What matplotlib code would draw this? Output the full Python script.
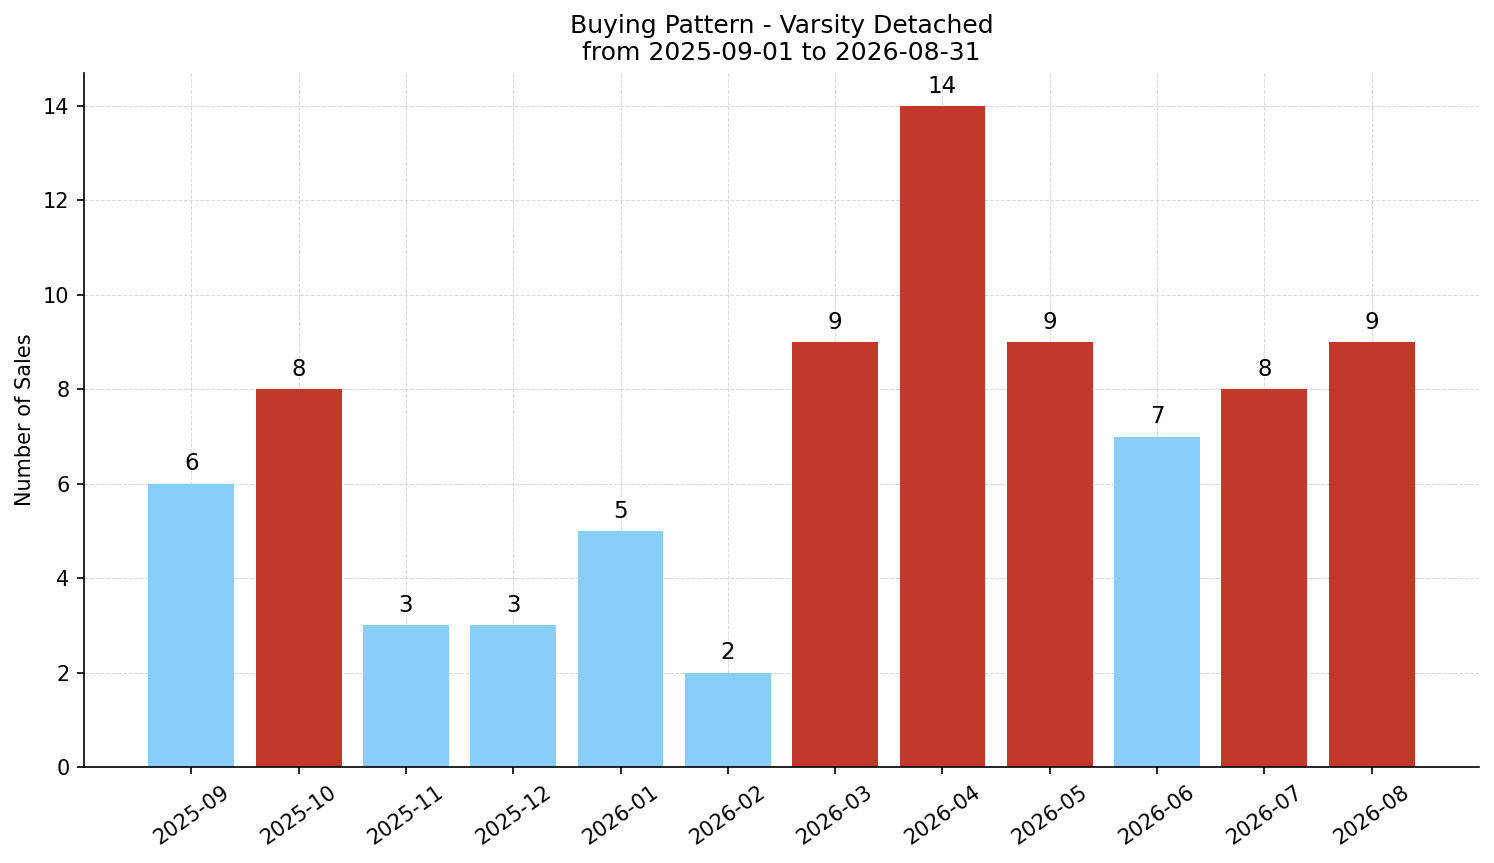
import matplotlib
matplotlib.use("Agg")
import matplotlib.pyplot as plt
import numpy as np

months = ["2025-09", "2025-10", "2025-11", "2025-12", "2026-01", "2026-02",
          "2026-03", "2026-04", "2026-05", "2026-06", "2026-07", "2026-08"]
sales = [6, 8, 3, 3, 5, 2, 9, 14, 9, 7, 8, 9]
high_color = "#C0392B"
low_color = "#87CEFA"

median_val = np.median(sales)
colors = [high_color if v > median_val else low_color for v in sales]

fig = plt.figure(figsize=(1494/150, 863/150), dpi=150)
ax = fig.add_axes([84/1494, 1 - 767/863, (1479-84)/1494, (767-73)/863])
x = np.arange(len(months))
ax.bar(x, sales, color=colors, width=0.8, zorder=2)
for xi, v in zip(x, sales):
    ax.annotate(str(v), (xi, v), xytext=(0, 4), textcoords="offset points",
                ha="center", va="bottom", fontsize=11)
ax.set_xticks(x)
ax.set_xticklabels(months, rotation=35, ha="center", fontsize=10)
ax.tick_params(axis="y", labelsize=10)
ax.set_xlim(-1, 12)
ax.set_ylim(0, 14.7)
ax.set_ylabel("Number of Sales", fontsize=10)
ax.set_title("Buying Pattern - Varsity Detached\nfrom 2025-09-01 to 2026-08-31", fontsize=12)
ax.grid(True, linestyle="--", color="#d9d9d9", linewidth=0.5, zorder=0)
ax.set_axisbelow(True)
ax.spines["top"].set_visible(False)
ax.spines["right"].set_visible(False)
fig.savefig("out.png", dpi=150)
